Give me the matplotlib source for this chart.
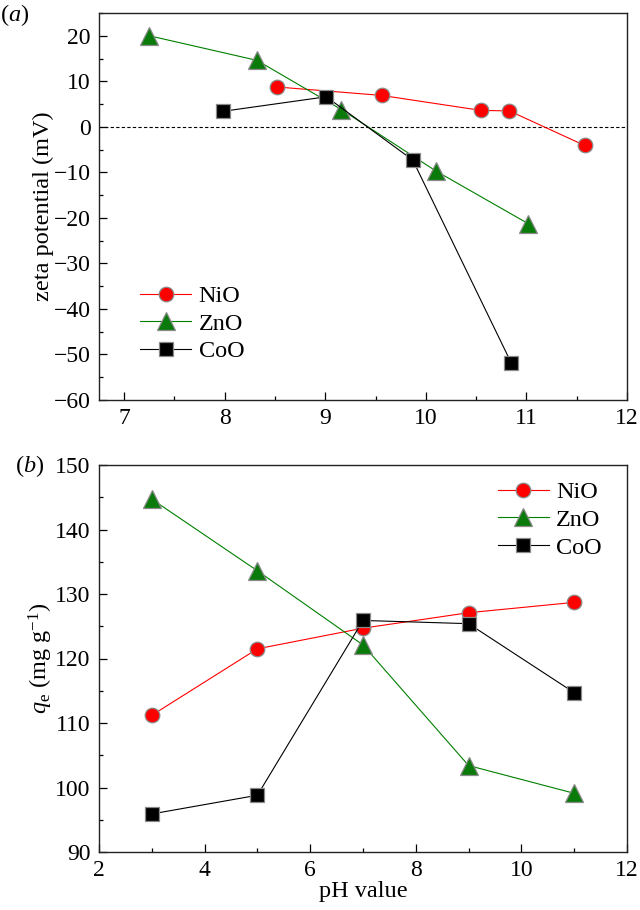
import matplotlib
matplotlib.use("Agg")
import matplotlib.pyplot as plt
from matplotlib.ticker import MultipleLocator

plt.rcParams['font.family'] = ['Liberation Serif', 'DejaVu Serif']
plt.rcParams['mathtext.fontset'] = 'custom'
plt.rcParams['mathtext.rm'] = 'Liberation Serif'
plt.rcParams['mathtext.it'] = 'Liberation Serif:italic'
plt.rcParams['axes.unicode_minus'] = True

# Panel (a): zeta potential vs pH
nio_a_x = [8.52, 9.56, 10.55, 10.83, 11.58]
nio_a_y = [8.75, 6.9, 3.6, 3.5, -4.1]
zno_a_x = [7.25, 8.32, 9.16, 10.1, 11.02]
zno_a_y = [20.0, 14.6, 3.8, -9.7, -21.3]
coo_a_x = [7.98, 9.01, 9.87, 10.85]
coo_a_y = [3.4, 6.6, -7.3, -51.9]

# Panel (b): qe vs pH
ph_b = [3, 5, 7, 9, 11]
nio_b = [111.2, 121.5, 124.7, 127.1, 128.7]
zno_b = [144.7, 133.6, 122.1, 103.4, 99.1]
coo_b = [95.9, 98.8, 125.9, 125.4, 114.7]

TICK_FS = 17
LAB_FS = 17.5
LEG_FS = 17.5

fig = plt.figure(figsize=(6.4, 9.1), dpi=100)
ax1 = fig.add_axes([99/640, (910-400)/910, 528/640, 387/910])
ax2 = fig.add_axes([99/640, (910-852)/910, 528/640, 387/910])

edge = '#8a8a8a'
sty = {
    'NiO': dict(color='#ff0000', marker='o', markersize=10.5, markerfacecolor='#ff0000'),
    'ZnO': dict(color='#007f00', marker='^', markersize=12.5, markerfacecolor='#0a7a0a'),
    'CoO': dict(color='#000000', marker='s', markersize=9.5, markerfacecolor='#000000'),
}

def plot_series(ax, x, y, name):
    s = sty[name]
    ax.plot(x, y, color=s['color'], lw=0.8, marker=s['marker'], markersize=s['markersize'],
            markerfacecolor=s['markerfacecolor'], markeredgecolor=edge, markeredgewidth=0.9,
            label=name, zorder=3)

ax1.axhline(0, color='black', lw=0.8, linestyle=(0, (3, 2)), zorder=1)
plot_series(ax1, nio_a_x, nio_a_y, 'NiO')
plot_series(ax1, zno_a_x, zno_a_y, 'ZnO')
plot_series(ax1, coo_a_x, coo_a_y, 'CoO')
ax1.set_xlim(6.75, 12)
ax1.set_ylim(-60, 25)
ax1.xaxis.set_major_locator(MultipleLocator(1))
ax1.xaxis.set_minor_locator(MultipleLocator(0.5))
ax1.yaxis.set_major_locator(MultipleLocator(10))
ax1.yaxis.set_minor_locator(MultipleLocator(5))
ax1.set_ylabel('zeta potential (mV)', fontsize=LAB_FS, labelpad=0)

plot_series(ax2, ph_b, nio_b, 'NiO')
plot_series(ax2, ph_b, zno_b, 'ZnO')
plot_series(ax2, ph_b, coo_b, 'CoO')
ax2.set_xlim(2, 12)
ax2.set_ylim(90, 150)
ax2.xaxis.set_major_locator(MultipleLocator(2))
ax2.xaxis.set_minor_locator(MultipleLocator(1))
ax2.yaxis.set_major_locator(MultipleLocator(10))
ax2.yaxis.set_minor_locator(MultipleLocator(5))
ax2.set_ylabel(r'$q_\mathrm{e}$ (mg g$^{-1}$)', fontsize=LAB_FS, labelpad=0)
ax2.set_xlabel('pH value', fontsize=LAB_FS, labelpad=0)

for ax in (ax1, ax2):
    for sp in ax.spines.values():
        sp.set_linewidth(1.0)
        sp.set_color('#222222')
    ax.tick_params(which='both', direction='in', top=False, right=False, labelsize=TICK_FS)
    ax.tick_params(which='major', length=5.5, width=0.9)
    ax.tick_params(which='minor', length=3, width=0.9)
    ax.tick_params(axis='x', which='major', pad=6)
    ax.tick_params(axis='y', which='major', pad=6)

leg_kw = dict(frameon=False, fontsize=LEG_FS, handlelength=2.1, handletextpad=0.3,
              labelspacing=0.23, borderpad=0, borderaxespad=0)
ax1.legend(loc='center left', bbox_to_anchor=(0.078, 0.197), **leg_kw)
ax2.legend(loc='center left', bbox_to_anchor=(0.755, 0.858), **leg_kw)

fig.text(0, 1 - 15/910, r'($\mathit{a}$)', fontsize=LAB_FS, va='center', ha='left')
fig.text(15/640, 1 - 466/910, r'($\mathit{b}$)', fontsize=LAB_FS, va='center', ha='left')

fig.savefig('out.png', dpi=100)
